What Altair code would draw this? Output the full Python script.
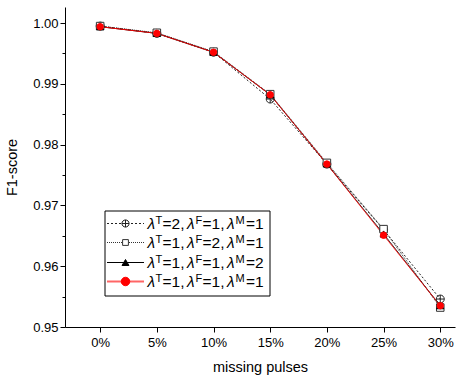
import altair as alt
import pandas as pd

# ---- data ----
missing = [0, 5, 10, 15, 20, 25, 30]
series_names = ["λT=2,λF=1,λM=1", "λT=1,λF=2,λM=1", "λT=1,λF=1,λM=2", "λT=1,λF=1,λM=1"]
lambda_T = ["2", "1", "1", "1"]
lambda_F = ["1", "2", "1", "1"]
lambda_M = ["1", "1", "2", "1"]
s_t2 = [0.9995, 0.9983, 0.9952, 0.9875, 0.9768, 0.9660, 0.9546]
s_f2 = [0.9995, 0.9984, 0.9953, 0.9883, 0.9770, 0.9661, 0.9532]
s_m2 = [0.9994, 0.9983, 0.9952, 0.9882, 0.9768, 0.9653, 0.9535]
s_all1 = [0.9994, 0.9983, 0.9952, 0.9882, 0.9768, 0.9651, 0.9535]
y_ticks = [0.95, 0.955, 0.96, 0.965, 0.97, 0.975, 0.98, 0.985, 0.99, 0.995, 1.00]
x_ticks = [0, 5, 10, 15, 20, 25, 30]

values = [s_t2, s_f2, s_m2, s_all1]
rows = []
for order, (name, vals) in enumerate(zip(series_names, values)):
    for x, y in zip(missing, vals):
        rows.append({"series": name, "order": order, "missing": x, "f1": y})
df = pd.DataFrame(rows)

CIRCLE_PLUS = "M-1,0A1,1 0 1,1 1,0A1,1 0 1,1 -1,0ZM-1,0H1M0,-1V1"
shapes = [CIRCLE_PLUS, "square", "triangle-up", "circle"]
strokes = ["#222222", "#333333", "black", "red"]
fills = ["transparent", "white", "black", "red"]
dashes = [[2, 2], [1, 1], [1, 0], [1, 0]]
widths = [1, 1, 1, 1.5]
sizes = [64, 42, 60, 90]

FONT = "Liberation Sans"

xs = alt.X("missing:Q", scale=alt.Scale(domain=[-3.1, 31.3], nice=False, zero=False),
           axis=alt.Axis(values=x_ticks, labelExpr="datum.value + '%'", title="missing pulses",
                         grid=False, tickSize=5, labelPadding=4, titlePadding=11,
                         labelFontSize=13, titleFontSize=14.5))
ys = alt.Y("f1:Q", scale=alt.Scale(domain=[0.95, 1.00264], nice=False, zero=False),
           axis=alt.Axis(values=y_ticks, grid=False,
                         labelExpr="abs(round(datum.value*200)) % 2 == 0 ? format(datum.value, '.2f') : ''",
                         tickSize={"condition": {"test": "abs(round(datum.value*200)) % 2 == 0", "value": 5}, "value": 3},
                         title="F1-score", labelPadding=2, titlePadding=13,
                         labelFontSize=13, titleFontSize=14.5))

dom = series_names
base = alt.Chart(df)
lines = base.mark_line().encode(
    x=xs, y=ys,
    detail="series:N",
    stroke=alt.Stroke("series:N", scale=alt.Scale(domain=dom, range=strokes), legend=None),
    strokeDash=alt.StrokeDash("series:N", scale=alt.Scale(domain=dom, range=dashes), legend=None),
    strokeWidth=alt.StrokeWidth("series:N", scale=alt.Scale(domain=dom, range=widths), legend=None),
    order="order:Q",
)
points = base.mark_point(opacity=1, strokeWidth=1).encode(
    x=xs, y=ys,
    shape=alt.Shape("series:N", scale=alt.Scale(domain=dom, range=shapes), legend=None),
    fill=alt.Fill("series:N", scale=alt.Scale(domain=dom, range=fills), legend=None),
    stroke=alt.Stroke("series:N", scale=alt.Scale(domain=dom, range=strokes), legend=None),
    size=alt.Size("series:N", scale=alt.Scale(domain=dom, range=sizes), legend=None),
    order="order:Q",
)

# ---- manual legend (pixel layout) ----
leg_layers = []
one = alt.Chart(pd.DataFrame({"a": [0]}))
box = one.mark_rect(fill="white", stroke="black", strokeWidth=1).encode(
    x=alt.value(40), x2=alt.value(205), y=alt.value(204), y2=alt.value(289))
leg_layers.append(box)
row_y = [216.5, 235.5, 255.5, 274.5]
TX = 82.5
for i, name in enumerate(series_names):
    leg_layers.append(one.mark_rule(stroke=strokes[i], strokeDash=dashes[i], strokeWidth=widths[i] if i < 3 else 2,
                                    opacity=1 if i < 3 else 0.6).encode(
        x=alt.value(42), x2=alt.value(79), y=alt.value(row_y[i])))
    leg_layers.append(one.mark_point(shape=shapes[i], fill=fills[i], stroke=strokes[i], size=sizes[i] * 0.8,
                                     opacity=1, strokeWidth=1).encode(
        x=alt.value(60.5), y=alt.value(row_y[i])))
    # label pieces: (text, dx, superscript?, italic?)
    pieces = [
        ("λ", 0, False, True), ("T", 8, True, False), ("=" + lambda_T[i] + ",", 15, False, False),
        ("λ", 39.5, False, True), ("F", 48, True, False), ("=" + lambda_F[i] + ",", 55, False, False),
        ("λ", 79.5, False, True), ("M", 88, True, False), ("=" + lambda_M[i], 98.5, False, False),
    ]
    for txt, dx, sup, ital in pieces:
        leg_layers.append(one.mark_text(
            align="left", baseline="alphabetic", font=FONT,
            fontSize=11 if sup else 15.5, fontStyle="italic" if ital else "normal", color="black").encode(
            x=alt.value(TX + dx), y=alt.value(row_y[i] + (0 if sup else 5.5)), text=alt.value(txt)))

chart = alt.layer(lines, points, *leg_layers).properties(
    width=390, height=320,
    padding={"left": 65, "top": 7, "right": 4, "bottom": 50},
    autosize=alt.AutoSizeParams(type="none"),
).configure_view(stroke=None).configure_axis(
    domainColor="black", tickColor="black", labelColor="black", titleColor="black",
    labelFont=FONT, titleFont=FONT, titleFontWeight="normal", domainWidth=1, tickWidth=1,
)

chart.save("out.html", embed_options={"renderer": "svg", "actions": False})
